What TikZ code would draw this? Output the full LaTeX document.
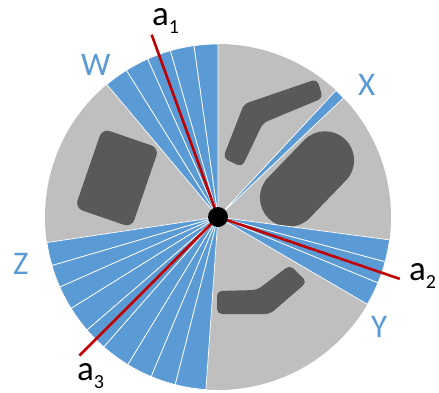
\documentclass[tikz,border=0pt]{standalone}
\usepackage{fontspec}
\setmainfont{Carlito}
\definecolor{wblue}{HTML}{5B9BD5}
\definecolor{diskgray}{HTML}{BFBFBF}
\definecolor{shapegray}{HTML}{595959}
\definecolor{axred}{HTML}{C00000}
\begin{document}
\begin{tikzpicture}[x=1pt,y=1pt,
  wedge/.style={fill=wblue, draw=white, line width=0.7pt, line join=round},
  darkshape/.style={fill=shapegray},
  axis/.style={draw=axred, line width=2.6pt},
  grouplabel/.style={text=wblue, font=\fontsize{33}{33}\selectfont, inner sep=0pt, anchor=base west},
  axlabel/.style={text=black, font=\fontsize{35}{35}\selectfont, inner sep=0pt, anchor=base west}]
\useasboundingbox (-218,-175) rectangle (221,217);
% disk
\fill[diskgray] (0,0) circle[radius=173pt];
% dark shapes
\fill[darkshape, rotate around={-19:(-101,39)}, rounded corners=8pt] (-131,-3) rectangle (-71,81);
\fill[darkshape, rounded corners=5pt] (5,59) -- (26,113) -- (99,138) -- (105,119) -- (45,94) -- (24,50) -- cycle;
\fill[darkshape, shift={(89,38)}, rotate=46, rounded corners=28.9pt] (-55,-29) rectangle (55,29);
\fill[darkshape, rounded corners=5pt] (-1,-74) -- (39,-73) -- (72,-48) -- (89,-65) -- (52,-97) -- (-1,-97) -- cycle;
% wedges
\foreach \a/\b in {90/98, 98/106, 106/114, 114/122, 122/130,
                   43.5/47,
                   -7.6/-15, -15/-22.4, -22.4/-30.3,
                   188.5/196.3, 196.3/203.9, 203.9/211.9, 211.9/220.8, 220.8/228.7,
                   228.7/238.6, 238.6/247.3, 247.3/255.7, 255.7/266}
  \filldraw[wedge] (0,0) -- (\a:173pt) arc[start angle=\a, end angle=\b, radius=173pt] -- cycle;
% axes
\coordinate (c) at (0,0);
\coordinate (e1) at (110:194pt);
\coordinate (e2) at (-18.8:192pt);
\coordinate (e3) at (225:196pt);
\draw[axis] (c) -- (e1);
\draw[axis] (c) -- (e2);
\draw[axis] (c) -- (e3);
\node[circle, fill=black, minimum size=20pt, inner sep=0pt] (dot) at (c) {};
% labels
\node[axlabel] (la1) at (-66,192) {a\raisebox{-8pt}{\fontsize{20}{20}\selectfont 1}};
\node[axlabel] (la2) at (191,-63) {a\raisebox{-8pt}{\fontsize{20}{20}\selectfont 2}};
\node[axlabel] (la3) at (-141,-163) {a\raisebox{-8pt}{\fontsize{20}{20}\selectfont 3}};
\node[grouplabel] (lw) at (-137,142) {W};
\node[grouplabel] (lx) at (140,122) {X};
\node[grouplabel] (ly) at (153,-120) {Y};
\node[grouplabel] (lz) at (-205,-57) {Z};
\end{tikzpicture}
\end{document}
